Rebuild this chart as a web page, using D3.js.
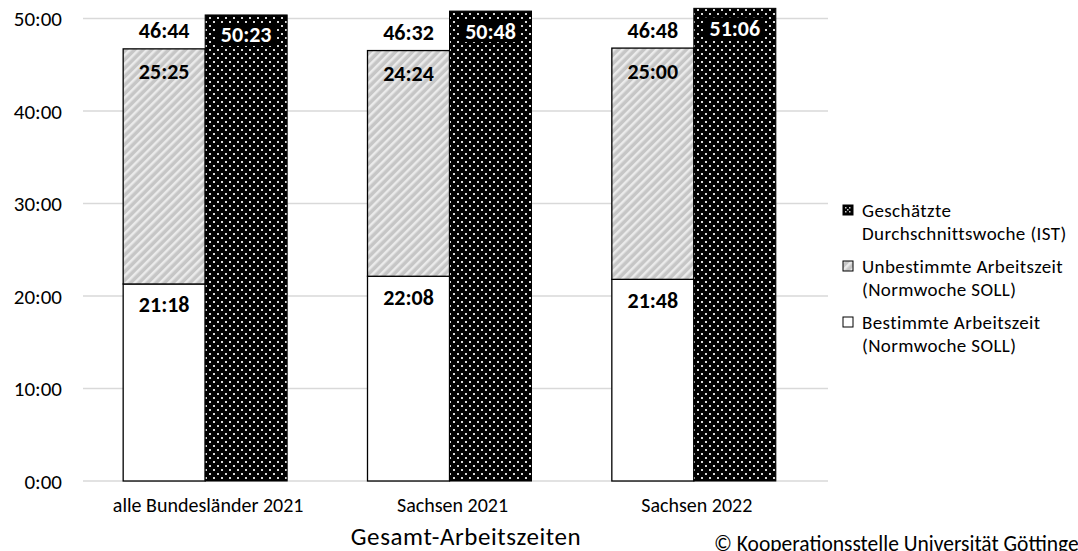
<!DOCTYPE html>
<html><head><meta charset="utf-8">
<script src="https://cdn.jsdelivr.net/npm/d3@7"></script>
<style>body{margin:0;background:#fff}svg{display:block;font-family:Carlito,Calibri,Lato,sans-serif}</style>
</head><body><svg id="c" width="1078" height="551"></svg>
<script>
const categories = ["alle Bundesländer 2021", "Sachsen 2021", "Sachsen 2022"];
const bestimmt = ["21:18", "22:08", "21:48"];
const unbestimmt = ["25:25", "24:24", "25:00"];
const sollTotal = ["46:44", "46:32", "46:48"];
const ist = ["50:23", "50:48", "51:06"];
const yTicks = [0, 10, 20, 30, 40, 50];
const legendItems = [
  {key: "ist", lines: ["Geschätzte", "Durchschnittswoche (IST)"]},
  {key: "unb", lines: ["Unbestimmte Arbeitszeit", "(Normwoche SOLL)"]},
  {key: "best", lines: ["Bestimmte Arbeitszeit", "(Normwoche SOLL)"]}
];
const toH = s => { const [h, m] = s.split(":").map(Number); return h + m / 60; };

const svg = d3.select("#c");
const defs = svg.append("defs");
const pd = defs.append("pattern").attr("id", "dots").attr("patternUnits", "userSpaceOnUse")
  .attr("width", 8).attr("height", 8);
pd.append("rect").attr("width", 8).attr("height", 8).attr("fill", "#000");
pd.append("rect").attr("x", 1).attr("y", 1).attr("width", 2).attr("height", 2).attr("fill", "#d8d8d8");
pd.append("rect").attr("x", 5).attr("y", 5).attr("width", 2).attr("height", 2).attr("fill", "#d8d8d8");
const ps = defs.append("pattern").attr("id", "diag").attr("patternUnits", "userSpaceOnUse")
  .attr("width", 6).attr("height", 6).attr("patternTransform", "rotate(45)");
ps.append("rect").attr("width", 6).attr("height", 6).attr("fill", "#c6c6c6");
ps.append("rect").attr("width", 2.5).attr("height", 6).attr("fill", "#ebebeb");

const x = d3.scaleBand().domain(categories).range([83, 816]).paddingInner(0).paddingOuter(0);
const y = d3.scaleLinear().domain([0, 50]).range([481, 18.5]);
const barW = 82;

svg.append("g").selectAll("line").data(yTicks).join("line")
  .attr("x1", 83).attr("x2", 828).attr("y1", d => y(d)).attr("y2", d => y(d))
  .attr("stroke", "#d9d9d9").attr("stroke-width", 1.3);

const yAxis = d3.axisLeft(y).tickValues(yTicks).tickFormat(d => d + ":00").tickSize(0).tickPadding(0);
const ya = svg.append("g").attr("transform", "translate(62,0)").call(yAxis);
ya.select(".domain").remove();
ya.selectAll("text").attr("font-size", 21).attr("fill", "#000").attr("font-family", "Carlito,Calibri,Lato,sans-serif").attr("dy", "0.35em");

const data = categories.map((c, i) => ({c, b: toH(bestimmt[i]), u: toH(unbestimmt[i]), t: sollTotal[i], ist: toH(ist[i]), bs: bestimmt[i], us: unbestimmt[i], is: ist[i]}));

const g = svg.append("g");
data.forEach(d => {
  const cx = x(d.c) + x.bandwidth() / 2;
  g.append("rect").attr("x", cx - barW).attr("y", y(d.b)).attr("width", barW).attr("height", y(0) - y(d.b))
    .attr("fill", "#fff").attr("stroke", "#000").attr("stroke-width", 1.3);
  g.append("rect").attr("x", cx - barW).attr("y", y(d.b + d.u)).attr("width", barW).attr("height", y(d.b) - y(d.b + d.u))
    .attr("fill", "url(#diag)").attr("stroke", "#000").attr("stroke-width", 1.3);
  g.append("rect").attr("x", cx).attr("y", y(d.ist)).attr("width", barW).attr("height", y(0) - y(d.ist))
    .attr("fill", "url(#dots)").attr("stroke", "#000").attr("stroke-width", 1);
  const lx = cx - barW / 2;
  const lab = (tx, ty, t, col) => g.append("text").attr("x", tx).attr("y", ty).attr("text-anchor", "middle")
    .attr("dominant-baseline", "central").attr("font-size", 22).attr("font-weight", "bold").attr("fill", col).text(t);
  lab(lx, y(d.b + d.u) - 18, d.t, "#000");
  lab(lx, y(d.b + d.u) + 23, d.us, "#000");
  lab(lx, y(d.b) + 21, d.bs, "#000");
  const bx = cx + barW / 2, by = y(d.ist) + 20;
  g.append("rect").attr("x", bx - 30).attr("y", by - 11).attr("width", 60).attr("height", 22).attr("fill", "#000");
  lab(bx, by, d.is, "#fff");
});

svg.append("g").selectAll("text").data(categories).join("text")
  .attr("x", d => x(d) + x.bandwidth() / 2 + 3).attr("y", 505).attr("text-anchor", "middle")
  .attr("dominant-baseline", "central").attr("font-size", 20).attr("fill", "#000").text(d => d);

svg.append("text").attr("x", 466).attr("y", 545).attr("text-anchor", "middle")
  .attr("font-size", 25).attr("letter-spacing", 0.6).attr("fill", "#000").text("Gesamt-Arbeitszeiten");
svg.append("text").attr("x", 714).attr("y", 544).attr("dominant-baseline", "central")
  .attr("font-size", 21.5).attr("fill", "#000").text("© Kooperationsstelle Universität Göttingen");

const fills = {ist: "#000", unb: "url(#diag)", best: "#fff"};
const lg = svg.append("g");
legendItems.forEach((it, i) => {
  const y0 = 210 + i * 56;
  lg.append("rect").attr("x", 843).attr("y", y0 - 5).attr("width", 10).attr("height", 10)
    .attr("fill", fills[it.key]).attr("stroke", "#000").attr("stroke-width", 1);
  if (it.key === "ist") {
    [[845,-3],[849,-3],[847,-1],[845,1],[849,1]].forEach(p => lg.append("rect").attr("x", p[0]).attr("y", y0 + p[1]).attr("width", 1.5).attr("height", 1.5).attr("fill", "#ccc"));
  }
  it.lines.forEach((ln, j) => {
    lg.append("text").attr("x", 862).attr("y", y0 + j * 23).attr("dominant-baseline", "central")
      .attr("font-size", 19).attr("letter-spacing", 0.4).attr("fill", "#000").text(ln);
  });
});
</script></body></html>
